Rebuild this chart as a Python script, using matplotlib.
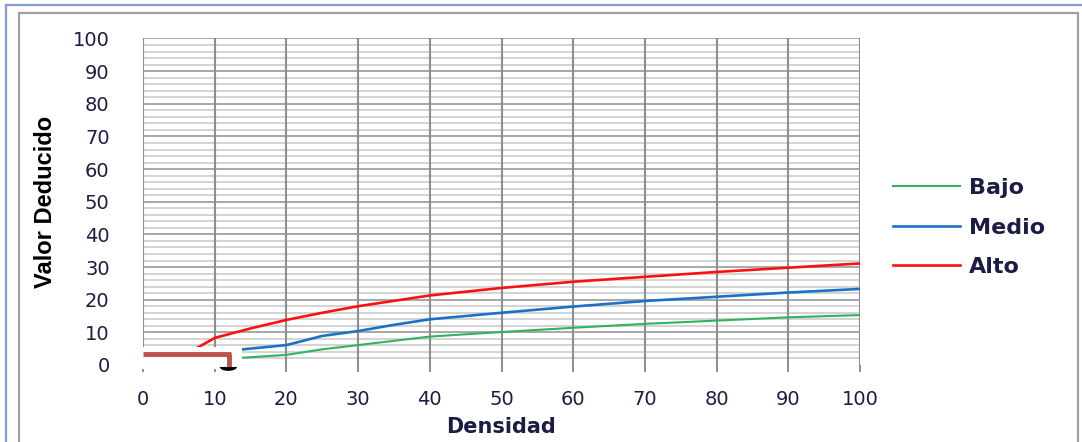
import numpy as np
import matplotlib
matplotlib.use('Agg')
import matplotlib.pyplot as plt
from matplotlib.patches import Rectangle, Wedge
from matplotlib.lines import Line2D

# data
alto_x = [5, 8, 10, 15, 20, 25, 30, 40, 50, 60, 70, 80, 90, 100]
alto_y = [2.3, 5.8, 8.3, 11.2, 13.8, 16.0, 18.0, 21.3, 23.6, 25.5, 27.0, 28.5, 29.8, 31.1]

medio_x = [10, 13, 20, 25, 30, 35, 40, 50, 60, 70, 80, 90, 100]
medio_y = [3.8, 4.6, 6.1, 8.9, 10.4, 12.3, 14.0, 16.0, 17.9, 19.6, 20.9, 22.2, 23.3]

bajo_x = [10, 13, 20, 25, 30, 40, 50, 60, 70, 80, 90, 100]
bajo_y = [1.9, 2.1, 3.1, 4.8, 6.1, 8.7, 10.1, 11.4, 12.6, 13.6, 14.6, 15.3]

x_ticks = [0, 10, 20, 30, 40, 50, 60, 70, 80, 90, 100]
y_ticks = [0, 10, 20, 30, 40, 50, 60, 70, 80, 90, 100]

# pasted reading marker (in data units)
mark_x = 12.0
mark_y = 3.4

txt_color = '#1c1c44'

fig = plt.figure(figsize=(10.82, 4.42), dpi=100)
fig.patch.set_facecolor('white')

# outer frames
fig.add_artist(Line2D([6 / 1082, 1], [1 - 5 / 442, 1 - 5 / 442], color='#7f9fcf', lw=1.6))
fig.add_artist(Line2D([6 / 1082, 6 / 1082], [0, 1 - 5 / 442], color='#7f9fcf', lw=1.6))
fig.add_artist(Rectangle((19 / 1082, -0.05), (1078 - 19) / 1082, 1.05 - 13 / 442,
                         fill=False, ec='#a0a0a0', lw=1.6))

ax = fig.add_axes([143 / 1082, 1 - 365 / 442, 717 / 1082, (365 - 38.5) / 442])

# grid
for yv in np.arange(2, 101, 2):
    major = yv % 10 == 0
    ax.axhline(yv, color='#a0a0a0' if major else '#d0d0d0', lw=1.3, zorder=1)
for xv in x_ticks:
    ax.axvline(xv, color='#8e8e8e', lw=1.5, zorder=1)

ax.plot(bajo_x, bajo_y, color='#2fb45a', lw=1.5, zorder=3, label='Bajo')
ax.plot(medio_x, medio_y, color='#1b72c2', lw=1.9, zorder=3, label='Medio')
ax.plot(alto_x, alto_y, color='#ff1010', lw=1.9, zorder=3, label='Alto')

# white pasted box with reading marker
ax.add_patch(Rectangle((-0.4, -1.2), 14.2, 6.7, fc='white', ec='none', zorder=5, clip_on=False))
ax.plot([0, mark_x + 0.3], [mark_y, mark_y], color='#c0504d', lw=3.5, zorder=6,
        solid_capstyle='butt', clip_on=False)
ax.plot([mark_x, mark_x], [mark_y, -0.6], color='#c0504d', lw=3.5, zorder=6,
        solid_capstyle='butt', clip_on=False)
ax.add_patch(Wedge((mark_x - 0.1, -0.6), 1.2, 180, 360, fc='black', ec='none', zorder=6,
                   clip_on=False, transform=ax.transData))

ax.set_xlim(0, 100)
ax.set_ylim(0, 100)
ax.set_xticks(x_ticks)
ax.set_yticks(y_ticks)
for s in ax.spines.values():
    s.set_visible(False)
ax.tick_params(axis='x', length=5, width=1.4, color='#8e8e8e', direction='out', pad=13,
               labelsize=14, labelcolor=txt_color)
ax.tick_params(axis='y', length=0, pad=24, labelsize=14, labelcolor=txt_color)

ax.set_xlabel('Densidad', fontsize=15, fontweight='bold', color=txt_color)
ax.xaxis.set_label_coords(0.5, (365 - 417) / 326.5)
ax.set_ylabel('Valor Deducido', fontsize=17, fontweight='bold', color='black',
              family=['Liberation Sans', 'DejaVu Sans'])
ax.yaxis.set_label_coords((57 - 143) / 717, 0.5)

ax.legend(loc='upper left', bbox_to_anchor=(893 / 1082, 1 - 178 / 442),
          bbox_transform=fig.transFigure, frameon=False, borderpad=0, borderaxespad=0,
          handlelength=3.0, handletextpad=0.4, labelspacing=0.88,
          prop={'size': 16, 'weight': 'bold'}, labelcolor=txt_color)

fig.savefig('out.png', dpi=100, facecolor='white')
